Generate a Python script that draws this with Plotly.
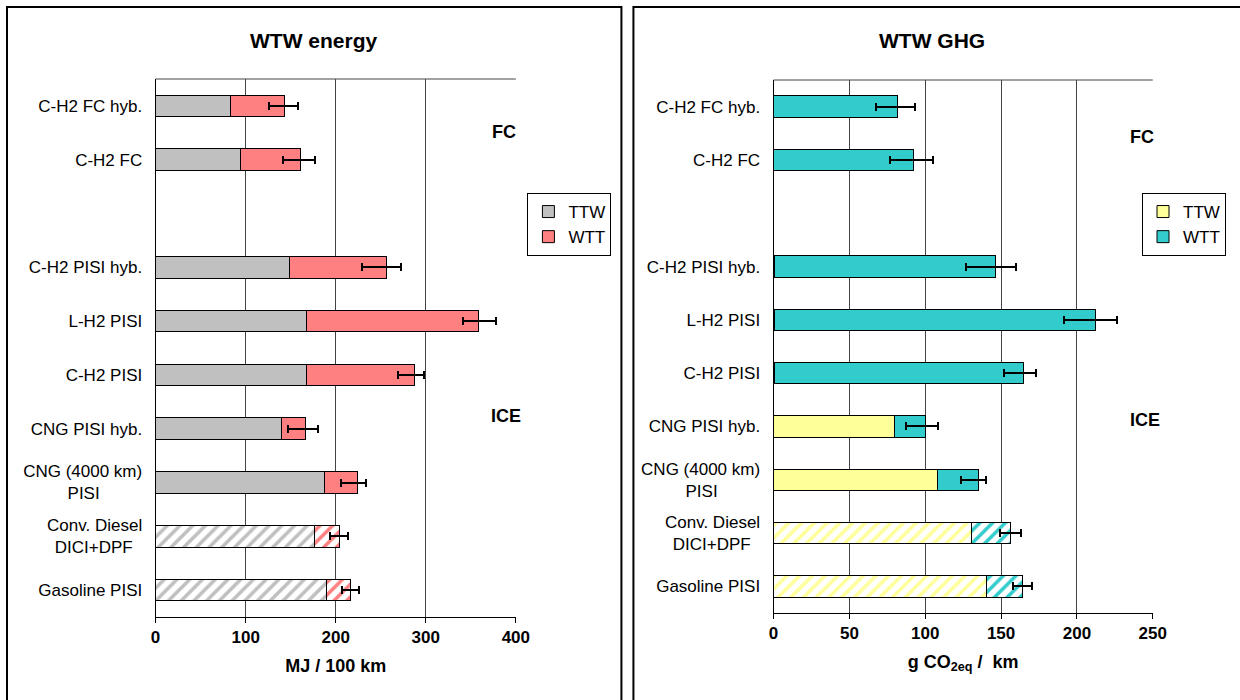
import plotly.graph_objects as go

W, H = 1240, 700

# ---------------- data ----------------
categories = ["C-H2 FC hyb.", "C-H2 FC", "gap", "C-H2 PISI hyb.", "L-H2 PISI",
              "C-H2 PISI", "CNG PISI hyb.", "CNG (4000 km)|PISI",
              "Conv. Diesel|DICI+DPF", "Gasoline PISI"]
hatched = [False, False, False, False, False, False, False, False, True, True]

# WTW energy (MJ / 100 km)
energy_ttw = [83, 94, None, 149, 168, 168, 139.5, 188, 176, 190]
energy_wtt = [60, 67, None, 107, 190, 119, 27, 36, 28.5, 26]
energy_err_minus = [17, 20, None, 27, 17, 18, 19, 18, 10.5, 9]
energy_err_plus = [15, 16, None, 16, 20, 11, 13.5, 10, 9.5, 10]

# WTW GHG (g CO2eq / km)
ghg_ttw = [0, 0, None, 0.5, 0.5, 0.5, 80, 108.3, 130.7, 140.6]
ghg_wtt = [82, 92.4, None, 145.5, 211.5, 164, 20.3, 26.7, 25.3, 23.4]
ghg_err_minus = [14.3, 15.8, None, 19, 20.3, 12.5, 12.8, 11.6, 7, 6.4]
ghg_err_plus = [11, 12.6, None, 14, 14.6, 8.4, 8.3, 4.8, 7.3, 6.3]

energy_ticks = [0, 100, 200, 300, 400]
ghg_ticks = [0, 50, 100, 150, 200, 250]

# ---------------- helpers ----------------
FONT = "Liberation Sans, Arial, sans-serif"
CHAR_W = {"C": .722, "N": .722, "G": .778, " ": .278, "(": .333, ")": .333, "4": .556,
          "0": .556, "k": .5, "m": .833, "P": .667, "I": .278, "S": .667, "o": .556,
          "n": .556, "v": .5, ".": .278, "D": .722, "i": .222, "e": .556, "s": .5,
          "l": .222, "+": .584, "F": .611}


def tick_text(label):
    if "|" not in label:
        return label
    lines = label.split("|")
    widths = [sum(CHAR_W.get(c, .556) for c in ln) for ln in lines]
    wmax = max(widths)
    out = []
    for ln, w in zip(lines, widths):
        pad = int(round((wmax - w) / 2 / .278))
        out.append(ln + "\u00a0" * pad)
    return "<br>".join(out)


# horizontal calibration of the photographed page
SX, OX = 0.984, 5.0


def px_x(p):
    return min(((p - OX) / SX) / W, 1.0)


def px_y(p):
    return 1 - p / H


fig = go.Figure()


def add_pair(ttw, wtt, emin, eplus, c_ttw, c_wtt, xa, ya, legend):
    for name, vals, col, err in (("TTW", ttw, c_ttw, None), ("WTT", wtt, c_wtt, (emin, eplus))):
        shapes = ["/" if h else "" for h in hatched]
        kw = {}
        if err is not None:
            kw["error_x"] = dict(type="data", symmetric=False, array=err[1], arrayminus=err[0],
                                 color="black", thickness=2, width=4)
        fig.add_trace(go.Bar(
            y=categories, x=vals, orientation="h", name=name,
            xaxis=xa, yaxis=ya, legend=legend, legendgroup=legend + name,
            marker=dict(color=col, line=dict(color="black", width=1),
                        pattern=dict(shape=shapes, fgcolor=col, bgcolor="white",
                                     size=9, solidity=0.4, fillmode="replace")),
            hoverinfo="skip", **kw))


add_pair(energy_ttw, energy_wtt, energy_err_minus, energy_err_plus,
         "#C0C0C0", "#FF8080", "x", "y", "legend")
add_pair(ghg_ttw, ghg_wtt, ghg_err_minus, ghg_err_plus,
         "#FFFF99", "#33CCCC", "x2", "y2", "legend2")

labelled = [c for c in categories if c != "gap"]
ticktext = [tick_text(c) for c in labelled]

yaxis_common = dict(type="category", autorange="reversed", categoryorder="array",
                    categoryarray=categories, tickvals=labelled, ticktext=ticktext,
                    showgrid=False, showline=True, linecolor="black", linewidth=1,
                    ticks="", ticklabelstandoff=9, zeroline=False,
                    tickfont=dict(family=FONT, size=17, color="black"))
xaxis_common = dict(showgrid=True, gridcolor="#444444", gridwidth=1, showline=True,
                    linecolor="black", linewidth=1, mirror=False, ticks="outside",
                    ticklen=5, tickcolor="black", zeroline=False,
                    tickfont=dict(family=FONT, size=17, color="black", weight="bold"))

legend_common = dict(yanchor="top", xanchor="right", bordercolor="black", borderwidth=1,
                     bgcolor="white", font=dict(family=FONT, size=17, color="black"),
                     traceorder="normal", tracegroupgap=1, itemwidth=30)

fig.update_layout(
    width=W, height=H, autosize=False,
    margin=dict(l=0, r=0, t=0, b=0),
    paper_bgcolor="white", plot_bgcolor="white",
    barmode="stack", bargap=0.6,
    showlegend=True,
    xaxis=dict(domain=[px_x(155.5), px_x(515.5)], anchor="y", range=[0, 400],
               tickvals=energy_ticks,
               title=dict(text="<b>MJ / 100 km</b>", font=dict(family=FONT, size=18, color="black"),
                          standoff=12),
               **xaxis_common),
    yaxis=dict(domain=[px_y(617), px_y(79)], anchor="x", **yaxis_common),
    xaxis2=dict(domain=[px_x(773), px_x(1152)], anchor="y2", range=[0, 250],
                tickvals=ghg_ticks,
                title=dict(text="<b>g CO<sub>2eq</sub> /  km</b>",
                           font=dict(family=FONT, size=18, color="black"), standoff=12),
                **xaxis_common),
    yaxis2=dict(domain=[px_y(613), px_y(80)], anchor="x2", **yaxis_common),
    legend=dict(x=px_x(611), y=px_y(193), **legend_common),
    legend2=dict(x=px_x(1237), y=px_y(193), **legend_common),
)

# plot area top border
fig.add_shape(type="line", xref="x domain", yref="y domain", x0=0, x1=1, y0=1, y1=1,
              line=dict(color="#444444", width=1))
fig.add_shape(type="line", xref="x2 domain", yref="y2 domain", x0=0, x1=1, y0=1, y1=1,
              line=dict(color="#444444", width=1))

# panel borders
fig.add_shape(type="rect", xref="paper", yref="paper", x0=px_x(7), x1=px_x(621),
              y0=-0.05, y1=px_y(7), line=dict(color="black", width=2), layer="below")
fig.add_shape(type="rect", xref="paper", yref="paper", x0=px_x(633), x1=1.05,
              y0=-0.05, y1=px_y(7), line=dict(color="black", width=2), layer="below")

# titles
for txt, cx in (("WTW energy", 313), ("WTW GHG", 931)):
    fig.add_annotation(text="<b>%s</b>" % txt, xref="paper", yref="paper",
                       x=px_x(cx), y=px_y(40), xanchor="center", yanchor="middle",
                       showarrow=False, font=dict(family=FONT, size=21, color="black"))

# group labels with white boxes
for txt, cx, cy, h in (("FC", 504, 132, 66), ("ICE", 506, 416, 62),
                       ("FC", 1141, 136, 65), ("ICE", 1144, 420, 64)):
    fig.add_annotation(text="<b>%s</b>" % txt, xref="paper", yref="paper",
                       x=px_x(cx), y=px_y(cy), xanchor="center", yanchor="middle",
                       showarrow=False, bgcolor="white",
                       width=36, height=h, borderpad=0,
                       font=dict(family=FONT, size=18, color="black"))

fig.write_html("out.html", config={"displayModeBar": False},
               post_script="document.body.style.margin='0';document.body.style.overflow='hidden';")
